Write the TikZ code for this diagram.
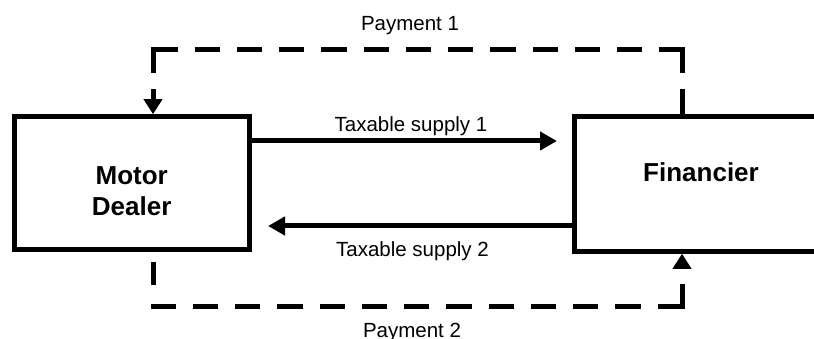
\documentclass[tikz,border=0pt]{standalone}
\usepackage{fontspec}
\setmainfont{Liberation Sans}
\usetikzlibrary{arrows.meta}
\tikzset{
  box/.style={draw, line width=5pt, inner sep=0pt, align=center,
    font=\fontsize{26}{32}\selectfont\bfseries},
  flow/.style={line width=5pt, -{Triangle[length=17pt,width=18pt]}},
  pay/.style={line width=5pt, line cap=rect, dash pattern=on 20.25pt off 22pt},
  payarrow/.style={pay, -{Triangle[length=15pt,width=18pt]}},
  lbl/.style={anchor=base, inner sep=0pt, font=\fontsize{20.5}{24}\selectfont},
}
\begin{document}
\begin{tikzpicture}[x=1pt,y=-1pt]
\clip (0,0) rectangle (814,339);
\fill[white] (0,0) rectangle (814,339);
% boxes
\node[box, minimum width=235pt, minimum height=132.6pt, text height=66pt, text depth=0pt]
  (md) at (131.7,183) {Motor\\Dealer};
\node[box, minimum width=254pt, minimum height=134.5pt, text height=18pt, text depth=22pt]
  (fin) at (701,184) {Financier};
% helper coordinates
\coordinate (t1) at (0,141);
\coordinate (t1end) at (557,141);
\coordinate (t2) at (0,226);
\coordinate (t2end) at (268,226);
\coordinate (pa) at (682,50);
\coordinate (pb) at (153,50);
\coordinate (pc) at (153,306);
\coordinate (pd) at (682,306);
% taxable supplies
\draw[flow] (md.east |- t1) -- (t1end);
\draw[flow] (fin.west |- t2) -- (t2end);
% payment 1
\draw[pay, dash pattern=on 21pt off 21pt] (pa) -- (pa |- fin.north);
\draw[pay] (pa) -- (pb);
\draw[payarrow, dash pattern=on 21pt off 21pt] (pb) -- (pb |- md.north);
% payment 2
\draw[pay, dash pattern=on 18pt off 50pt, dash phase=55pt] (pc |- md.south) -- (pc);
\draw[pay] (pc) -- (pd);
\draw[payarrow, dash pattern=on 20pt off 22pt] (pd) -- (pd |- fin.south);
% labels
\node[lbl] (lt1) at (411,132) {Taxable supply 1};
\node[lbl] (lt2) at (412.5,256) {Taxable supply 2};
\node[lbl] (lp1) at (410,31) {Payment 1};
\node[lbl] (lp2) at (412,337) {Payment 2};
\end{tikzpicture}
\end{document}
